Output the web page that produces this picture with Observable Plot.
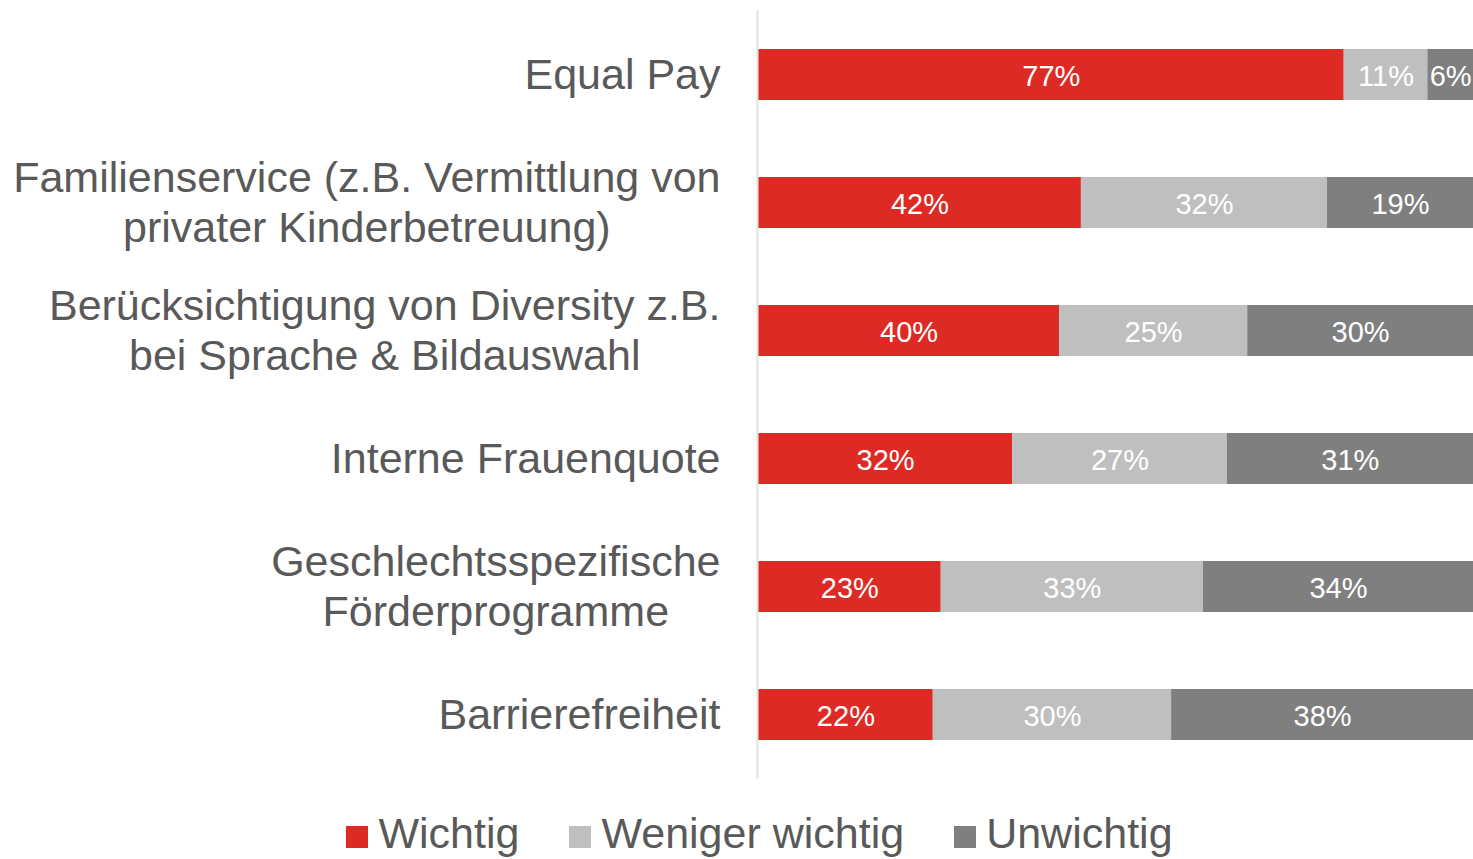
<!DOCTYPE html>
<html>
<head>
<meta charset="utf-8">
<script src="https://cdn.jsdelivr.net/npm/d3@7"></script>
<script src="https://cdn.jsdelivr.net/npm/@observablehq/plot@0.6"></script>
<style>
  html, body { margin: 0; padding: 0; background: #fff; overflow: hidden; }
  body { width: 1473px; height: 859px; font-family: "Liberation Sans", Arial, sans-serif; }
  #legend { display: flex; justify-content: center; align-items: center; padding-left: 46px; padding-top: 22px;
            font-size: 43px; line-height: 1; color: #595959; }
  #legend .item { display: flex; align-items: center; margin: 0 25px; }
  #legend .sw { width: 22px; height: 22px; margin-right: 10px; position: relative; top: 3px; }
</style>
</head>
<body>
<div id="chart"></div>
<div id="legend"></div>
<script>
const categories = [
  "Equal Pay",
  "Familienservice (z.B. Vermittlung von\nprivater Kinderbetreuung)",
  "Berücksichtigung von Diversity z.B.\nbei Sprache & Bildauswahl",
  "Interne Frauenquote",
  "Geschlechtsspezifische\nFörderprogramme",
  "Barrierefreiheit"
];
const series = ["Wichtig", "Weniger wichtig", "Unwichtig"];
const wichtig = [77, 42, 40, 32, 23, 22];
const wenigerWichtig = [11, 32, 25, 27, 33, 30];
const unwichtig = [6, 19, 30, 31, 34, 38];
const colors = ["#DE2A24", "#BFBFBF", "#7F7F7F"];

const seriesValues = [wichtig, wenigerWichtig, unwichtig];
const data = [];
categories.forEach((cat, i) => {
  series.forEach((s, j) => data.push({cat, series: s, value: seriesValues[j][i]}));
});

const plot = Plot.plot({
  width: 1473,
  height: 790,
  marginLeft: 758,
  marginRight: 0,
  marginTop: 10,
  marginBottom: 11,
  style: {fontFamily: "'Liberation Sans', Arial, sans-serif", background: "#fff"},
  x: {domain: [0, 1], axis: null},
  y: {domain: categories, paddingInner: 0.6, paddingOuter: 0.3, label: null},
  color: {domain: series, range: colors},
  marks: [
    Plot.barX(data, Plot.stackX({offset: "normalize", x: "value", y: "cat", fill: "series", z: "series", order: null})),
    Plot.textX(data, Plot.stackX({offset: "normalize", x: "value", y: "cat", z: "series", order: null,
      text: d => d.value + "%", fill: "white", fontSize: 29, dy: 2})),
    Plot.ruleX([0], {stroke: "#e3e3e3", strokeWidth: 2, dx: -1}),
    Plot.axisY({tickSize: 0, tickPadding: 38, fontSize: 43, lineHeight: 1.15, color: "#595959", label: null, dy: -2})
  ]
});
document.getElementById("chart").appendChild(plot);

// center the lines of multi-line category labels within their right-aligned block
plot.querySelectorAll("text").forEach(t => {
  const spans = t.querySelectorAll("tspan");
  if (spans.length > 1) {
    const widths = Array.from(spans, s => s.getComputedTextLength());
    const W = Math.max(...widths);
    spans.forEach((s, i) => s.setAttribute("x", -(W - widths[i]) / 2));
  }
});

const legend = document.getElementById("legend");
series.forEach((s, i) => {
  const item = document.createElement("div");
  item.className = "item";
  const sw = document.createElement("span");
  sw.className = "sw";
  sw.style.background = colors[i];
  const label = document.createElement("span");
  label.textContent = s;
  item.appendChild(sw);
  item.appendChild(label);
  legend.appendChild(item);
});
</script>
</body>
</html>
